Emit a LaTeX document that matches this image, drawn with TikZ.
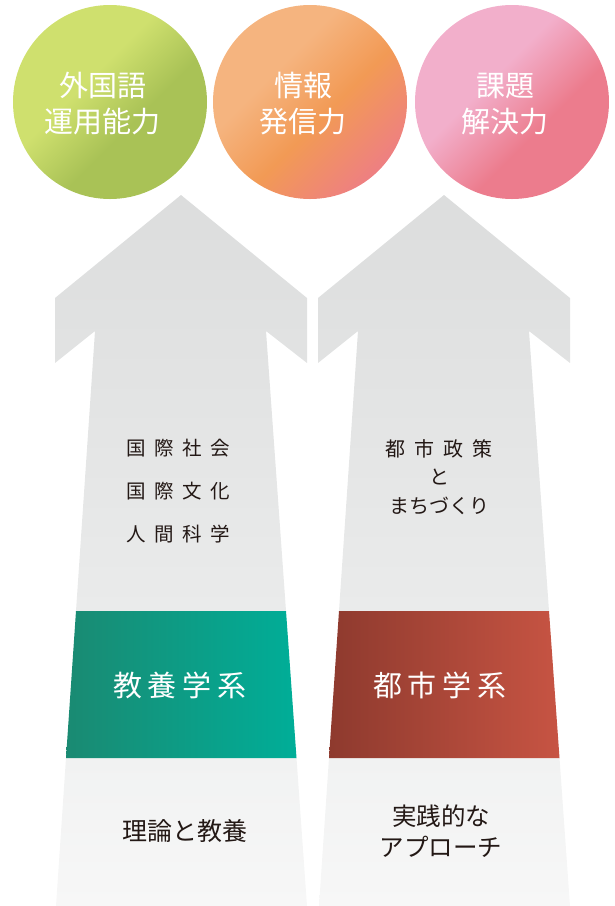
\documentclass[tikz,border=0pt]{standalone}
\usepackage{fontspec}
\setmainfont{Noto Sans CJK JP}
\usetikzlibrary{shadings}
\definecolor{gA}{HTML}{CFE06E}
\definecolor{gB}{HTML}{A9C256}
\definecolor{oA}{HTML}{F5B47F}
\definecolor{oB}{HTML}{F29A55}
\definecolor{oC}{HTML}{EE7F82}
\definecolor{pA}{HTML}{F2AFCB}
\definecolor{pB}{HTML}{EC7C8D}
\definecolor{tealA}{HTML}{1A8A72}
\definecolor{tealB}{HTML}{00AE98}
\definecolor{redA}{HTML}{8E3A2E}
\definecolor{redB}{HTML}{C75443}
\definecolor{grTop}{HTML}{DCDDDD}
\definecolor{grMid}{HTML}{EAEBEB}
\definecolor{grLo}{HTML}{F1F2F2}
\definecolor{grBot}{HTML}{F7F7F7}
\definecolor{txt}{HTML}{231815}
\pgfdeclarehorizontalshading{greensh}{100bp}{color(0bp)=(gA); color(42bp)=(gA); color(58bp)=(gB); color(100bp)=(gB)}
\pgfdeclarehorizontalshading{orangesh}{100bp}{color(0bp)=(oA); color(38bp)=(oA); color(55bp)=(oB); color(75bp)=(oC); color(100bp)=(oC)}
\pgfdeclarehorizontalshading{pinksh}{100bp}{color(0bp)=(pA); color(42bp)=(pA); color(60bp)=(pB); color(100bp)=(pB)}
\tikzset{
  ball/.style={circle, minimum size=194pt, inner sep=0pt, shading angle=-45},
  balltxt/.style={text=white, align=center, inner sep=0pt, font=\fontsize{29}{36}\selectfont},
  arrowtxt/.style={text=txt, align=center, inner sep=0pt},
  bandtxt/.style={text=white, inner sep=0pt, font=\fontsize{29}{30}\selectfont},
}
\newcommand{\ks}{\kern8.5pt}
\newcommand{\kr}{\kern9pt}
\newcommand{\kb}{\kern6pt}
\begin{document}
\begin{tikzpicture}[x=1pt,y=-1pt]
\useasboundingbox (0,0) rectangle (614,906);
% arrows
\foreach \dx in {0,263}{
  \begin{scope}[xshift=\dx pt]
    \shade[top color=grTop, bottom color=grMid]
      (181,195) -- (307,298) -- (307,363) -- (266,331) -- (286,611) -- (76,611)
      -- (95,331) -- (55,363) -- (55,298) -- cycle;
    \shade[top color=grLo, bottom color=grBot]
      (66,758) -- (296.5,758) -- (307,906) -- (56,906) -- cycle;
  \end{scope}
}
\shade[left color=tealA, right color=tealB] (76,611) -- (286,611) -- (296.5,758) -- (66,758) -- cycle;
\shade[left color=redA, right color=redB] (339,611) -- (549,611) -- (559.5,758) -- (329,758) -- cycle;
% circles
\node[ball, shading=greensh] (c1) at (110,102) {};
\node[ball, shading=orangesh] (c2) at (310,102) {};
\node[ball, shading=pinksh] (c3) at (512,102) {};
\node[balltxt] (l1) at (103,104) {外国語\\運用能力};
\node[balltxt] (l2) at (303,104) {情報\\発信力};
\node[balltxt] (l3) at (505,104) {課題\\解決力};
% texts in arrows
\node[arrowtxt, font=\fontsize{19.5}{43}\selectfont] (t1) at (178.5,491) {国\ks 際\ks 社\ks 会\\国\ks 際\ks 文\ks 化\\人\ks 間\ks 科\ks 学};
\node[arrowtxt, font=\fontsize{20}{28.5}\selectfont] (t2) at (439,477) {都\kr 市\kr 政\kr 策\\と\\まちづくり};
\node[bandtxt] (b1) at (180,685) {教\kb 養\kb 学\kb 系};
\node[bandtxt] (b2) at (440,685) {都\kb 市\kb 学\kb 系};
\node[arrowtxt, font=\fontsize{25}{31}\selectfont] (u1) at (185,831) {理論と教養};
\node[arrowtxt, font=\fontsize{24.5}{31}\selectfont] (u2) at (441,831.5) {実践的な\\アプローチ};
\end{tikzpicture}
\end{document}
